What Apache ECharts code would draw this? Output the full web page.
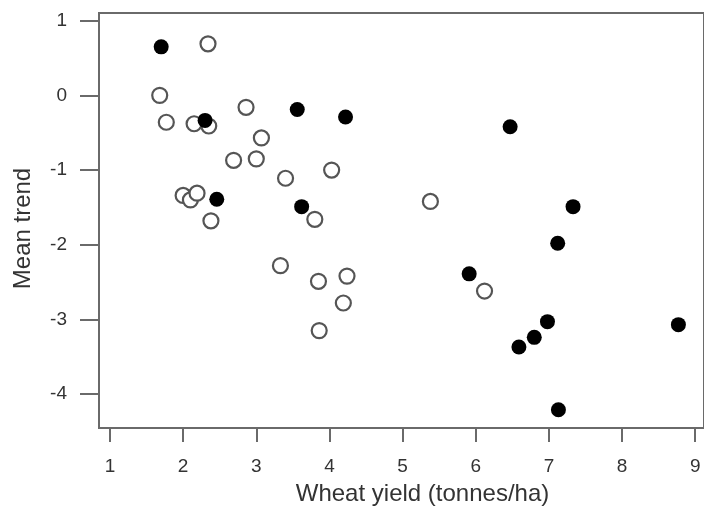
<!DOCTYPE html>
<html>
<head>
<meta charset="utf-8">
<script src="https://cdn.jsdelivr.net/npm/echarts@6/dist/echarts.min.js"></script>
<style>
html,body{margin:0;padding:0;background:#fff;}
#chart{width:704px;height:511px;}
</style>
</head>
<body>
<div id="chart"></div>
<script>
// Filled (black) points: wheat yield (t/ha), mean trend
const filledX = [1.70, 2.30, 3.56, 4.22, 2.46, 3.62, 6.47, 7.33, 7.12, 5.91, 6.59, 6.80, 6.98, 7.13, 8.77];
const filledY = [0.65, -0.335, -0.19, -0.29, -1.39, -1.49, -0.42, -1.49, -1.98, -2.39, -3.37, -3.24, -3.03, -4.21, -3.07];
// Open (hollow) points
const openX = [2.34, 1.68, 1.77, 2.15, 2.35, 2.86, 3.07, 2.69, 3.00, 3.40, 4.03, 2.00, 2.10, 2.19, 2.38, 3.80, 5.38, 3.33, 3.85, 4.24, 4.19, 3.86, 6.12];
const openY = [0.69, 0.00, -0.36, -0.38, -0.41, -0.16, -0.57, -0.87, -0.85, -1.11, -1.00, -1.34, -1.40, -1.31, -1.68, -1.66, -1.42, -2.28, -2.49, -2.42, -2.78, -3.15, -2.62];
const xTicks = [1, 2, 3, 4, 5, 6, 7, 8, 9];
const yTicks = [1, 0, -1, -2, -3, -4];

const filled = filledX.map((x, i) => [x, filledY[i]]);
const open = openX.map((x, i) => [x, openY[i]]);

const axisCol = '#6a6a6a';
const textCol = '#333333';
const font = 'Liberation Sans, Arial, sans-serif';

const chart = echarts.init(document.getElementById('chart'), null, {renderer: 'canvas'});
chart.setOption({
  animation: false,
  backgroundColor: '#ffffff',
  grid: {
    left: 99, top: 13, right: 0, bottom: 82,
    show: true, borderColor: axisCol, borderWidth: 2, backgroundColor: 'transparent'
  },
  xAxis: {
    type: 'value', min: 0.85, max: 9.12,
    splitLine: {show: false},
    axisLine: {show: true, onZero: false, lineStyle: {color: axisCol, width: 2}},
    axisTick: {show: true, length: 14, customValues: xTicks, lineStyle: {color: axisCol, width: 2}},
    axisLabel: {customValues: xTicks, margin: 29, color: textCol, fontSize: 19, fontFamily: font},
    name: 'Wheat yield (tonnes/ha)',
    nameLocation: 'middle', nameGap: 54,
    nameTextStyle: {color: textCol, fontSize: 24, fontFamily: font, padding: [0, 0, 0, 42]}
  },
  yAxis: {
    type: 'value', min: -4.454, max: 1.103,
    splitLine: {show: false},
    axisLine: {show: true, onZero: false, lineStyle: {color: axisCol, width: 2}},
    axisTick: {show: true, length: 19, customValues: yTicks, lineStyle: {color: axisCol, width: 2}},
    axisLabel: {customValues: yTicks, margin: 32, color: textCol, fontSize: 19, fontFamily: font},
    name: 'Mean trend',
    nameLocation: 'middle', nameGap: 64,
    nameTextStyle: {color: textCol, fontSize: 24, fontFamily: font, padding: [0, 16, 0, 0]}
  },
  series: [
    {
      type: 'scatter', data: open, symbol: 'circle', symbolSize: 15,
      itemStyle: {color: '#ffffff', borderColor: '#555555', borderWidth: 2.2, opacity: 1}
    },
    {
      type: 'scatter', data: filled, symbol: 'circle', symbolSize: 15,
      itemStyle: {color: '#000000', opacity: 1}
    }
  ]
});
</script>
</body>
</html>
